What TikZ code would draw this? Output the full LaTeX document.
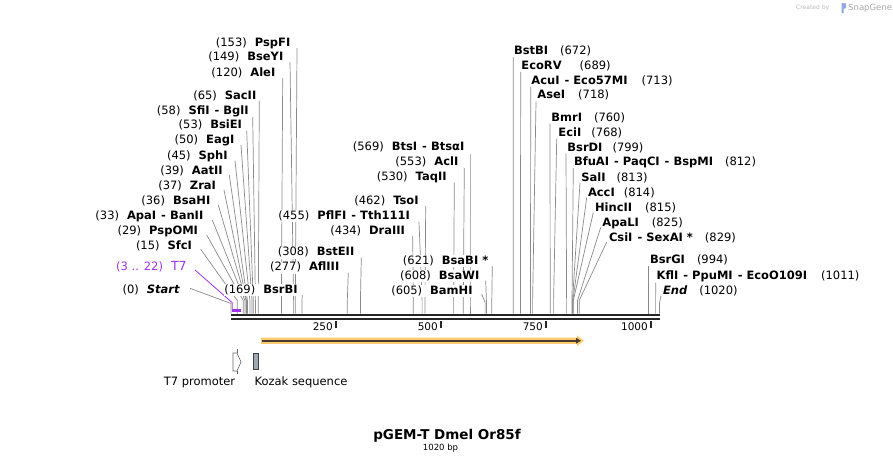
\documentclass[tikz,border=0pt]{standalone}
\usepackage{fontspec}
\setmainfont{DejaVu Sans}
\usetikzlibrary{arrows.meta,backgrounds}

\definecolor{cutgray}{RGB}{138,138,138}
\definecolor{primer}{RGB}{160,50,235}
\definecolor{cdsfill}{RGB}{253,202,112}
\definecolor{cdsline}{RGB}{70,60,48}
\definecolor{kozak}{RGB}{160,168,176}
\definecolor{credit}{RGB}{185,185,185}

\tikzset{
    enzl/.style = {
        anchor=east,
        inner sep=0.5pt,
        fill=white,
        text height=8.5pt,
        text depth=2.5pt,
        font=\fontsize{11.5}{13}\selectfont
    },
    enzr/.style = {
        enzl,
        anchor=west
    },
    cut/.style = {
        draw=cutgray,
        line width=0.7pt
    },
    backbone/.style = {
        draw=black!85,
        line width=2.1pt
    },
    tick/.style = {
        draw=black!85,
        line width=1.7pt
    },
    ticklabel/.style = {
        anchor=east,
        inner sep=0pt,
        font=\fontsize{10.5}{12}\selectfont
    },
    featlabel/.style = {
        inner sep=0pt,
        font=\fontsize{11.5}{13}\selectfont
    }
}

\begin{document}
\begin{tikzpicture}[x=1pt, y=-1pt]

\useasboundingbox (0,0) rectangle (893,464);

% cut sites on the top strand
\coordinate (c0) at (231,313.5);
\coordinate (c15) at (237.3,313.5);
\coordinate (c29) at (243.2,313.5);
\coordinate (c33) at (244.9,313.5);
\coordinate (c36) at (246.1,313.5);
\coordinate (c37) at (246.5,313.5);
\coordinate (c39) at (247.4,313.5);
\coordinate (c45) at (249.9,313.5);
\coordinate (c50) at (252.0,313.5);
\coordinate (c53) at (253.3,313.5);
\coordinate (c58) at (255.4,313.5);
\coordinate (c65) at (258.3,313.5);
\coordinate (c120) at (281.4,313.5);
\coordinate (c149) at (293.6,313.5);
\coordinate (c153) at (295.3,313.5);
\coordinate (c169) at (302.0,313.5);
\coordinate (c277) at (347.3,313.5);
\coordinate (c308) at (360.4,313.5);
\coordinate (c434) at (413.3,313.5);
\coordinate (c455) at (422.1,313.5);
\coordinate (c462) at (425.0,313.5);
\coordinate (c530) at (453.6,313.5);
\coordinate (c553) at (463.3,313.5);
\coordinate (c569) at (470.0,313.5);
\coordinate (c605) at (485.1,313.5);
\coordinate (c608) at (486.4,313.5);
\coordinate (c621) at (491.8,313.5);
\coordinate (c672) at (513.2,313.5);
\coordinate (c689) at (520.4,313.5);
\coordinate (c713) at (530.5,313.5);
\coordinate (c718) at (532.6,313.5);
\coordinate (c760) at (550.2,313.5);
\coordinate (c768) at (553.6,313.5);
\coordinate (c799) at (566.6,313.5);
\coordinate (c812) at (572.0,313.5);
\coordinate (c813) at (572.5,313.5);
\coordinate (c814) at (572.9,313.5);
\coordinate (c815) at (573.3,313.5);
\coordinate (c825) at (577.5,313.5);
\coordinate (c829) at (579.2,313.5);
\coordinate (c994) at (648.5,313.5);
\coordinate (c1011) at (655.6,313.5);
\coordinate (c1020) at (659.4,313.5);
\coordinate (t7site) at (232.3,310.7);

% enzymes left of the map
\node (pspfi) [enzl] at (291,43) {(153)\hspace{8pt}\textbf{PspFI}};
\node (bseyi) [enzl] at (284,57.7) {(149)\hspace{8pt}\textbf{BseYI}};
\node (alei) [enzl] at (276,73.7) {(120)\hspace{8pt}\textbf{AleI}};
\node (sacii) [enzl] at (257,96) {(65)\hspace{8pt}\textbf{SacII}};
\node (sfii) [enzl] at (249.3,111) {(58)\hspace{8pt}\textbf{SfiI\hspace{5pt}- BglI}};
\node (bsiei) [enzl] at (242.7,125.3) {(53)\hspace{8pt}\textbf{BsiEI}};
\node (eagi) [enzl] at (235,140) {(50)\hspace{8pt}\textbf{EagI}};
\node (sphi) [enzl] at (228.3,156) {(45)\hspace{8pt}\textbf{SphI}};
\node (aatii) [enzl] at (223.3,171) {(39)\hspace{8pt}\textbf{AatII}};
\node (zrai) [enzl] at (216.7,186) {(37)\hspace{8pt}\textbf{ZraI}};
\node (bsahi) [enzl] at (211,201) {(36)\hspace{8pt}\textbf{BsaHI}};
\node (apai) [enzl] at (204,216) {(33)\hspace{8pt}\textbf{ApaI\hspace{5pt}- BanII}};
\node (pspomi) [enzl] at (198.7,231) {(29)\hspace{8pt}\textbf{PspOMI}};
\node (sfci) [enzl] at (192.7,246) {(15)\hspace{8pt}\textbf{SfcI}};
\node (t7) [enzl, text=primer] at (187.3,267.7) {(3 .. 22)\hspace{8pt}{\fontsize{12.5}{13}\selectfont T7}};
\node (start) [enzl] at (180.7,290.3) {(0)\hspace{8pt}\textbf{\textit{Start}}};

% enzymes in the middle
\node (bsrbi) [enzl] at (298.3,290.3) {(169)\hspace{8pt}\textbf{BsrBI}};
\node (afliii) [enzl] at (340,267.7) {(277)\hspace{8pt}\textbf{AflIII}};
\node (bsteii) [enzl] at (355,252.7) {(308)\hspace{8pt}\textbf{BstEII}};
\node (draiii) [enzl] at (405.7,231) {(434)\hspace{8pt}\textbf{DraIII}};
\node (pflfi) [enzl] at (410.7,216) {(455)\hspace{8pt}\textbf{PflFI\hspace{5pt}- Tth111I}};
\node (tsoi) [enzl] at (419.3,201) {(462)\hspace{8pt}\textbf{TsoI}};
\node (taqii) [enzl] at (447.3,177.7) {(530)\hspace{8pt}\textbf{TaqII}};
\node (acli) [enzl] at (459,162.7) {(553)\hspace{8pt}\textbf{AclI}};
\node (btsi) [enzl] at (465,147.7) {(569)\hspace{8pt}\textbf{BtsI\hspace{5pt}- BtsαI}};
\node (bamhi) [enzl] at (473.3,291) {(605)\hspace{8pt}\textbf{BamHI}};
\node (bsawi) [enzl] at (480,276) {(608)\hspace{8pt}\textbf{BsaWI}};
\node (bsabi) [enzl] at (489,261) {(621)\hspace{8pt}\textbf{BsaBI *}};

% enzymes right of the map
\node (bstbi) [enzr] at (513.3,51) {\textbf{BstBI}\hspace{12pt}(672)};
\node (ecorv) [enzr] at (520.7,66) {\textbf{EcoRV}\hspace{18pt}(689)};
\node (acui) [enzr] at (530.7,81) {\textbf{AcuI\hspace{5pt}- Eco57MI}\hspace{14pt}(713)};
\node (asei) [enzr] at (536.7,95.3) {\textbf{AseI}\hspace{13pt}(718)};
\node (bmri) [enzr] at (550.7,118.7) {\textbf{BmrI}\hspace{12pt}(760)};
\node (ecii) [enzr] at (557.7,133.7) {\textbf{EciI}\hspace{10pt}(768)};
\node (bsrdi) [enzr] at (566.7,148.3) {\textbf{BsrDI}\hspace{10pt}(799)};
\node (bfuai) [enzr] at (573.3,162.7) {\textbf{BfuAI\hspace{5pt}- PaqCI\hspace{5pt}- BspMI}\hspace{12pt}(812)};
\node (sali) [enzr] at (580.7,178.3) {\textbf{SalI}\hspace{11pt}(813)};
\node (acci) [enzr] at (587.3,193.3) {\textbf{AccI}\hspace{9pt}(814)};
\node (hincii) [enzr] at (594.3,208.3) {\textbf{HincII}\hspace{13pt}(815)};
\node (apali) [enzr] at (601.7,223.3) {\textbf{ApaLI}\hspace{13pt}(825)};
\node (csii) [enzr] at (608.3,238.3) {\textbf{CsiI\hspace{5pt}- SexAI *}\hspace{12pt}(829)};
\node (bsrgi) [enzr] at (649.3,260.3) {\textbf{BsrGI}\hspace{12pt}(994)};
\node (kfli) [enzr] at (656,276) {\textbf{KflI\hspace{5pt}- PpuMI\hspace{5pt}- EcoO109I}\hspace{14pt}(1011)};
\node (endsite) [enzr] at (662.3,291) {\textbf{\textit{End}}\hspace{12pt}(1020)};

% features
\node (t7prom) [featlabel] at (199.5,382) {T7 promoter};
\node (kozakseq) [featlabel] at (301,382) {Kozak sequence};

% scale
\node (t250) [ticklabel] at (333,327) {250};
\node (t500) [ticklabel] at (438,327) {500};
\node (t750) [ticklabel] at (543,327) {750};
\node (t1000) [ticklabel] at (648,327) {1000};

% title
\node (title) [inner sep=0pt, font=\fontsize{13.5}{15}\selectfont\bfseries] at (447,436) {pGEM-T Dmel Or85f};
\node (size) [inner sep=0pt, font=\fontsize{8.5}{10}\selectfont] at (440.5,448) {1020 bp};

% credit
\node (created) [inner sep=0pt, anchor=west, text=credit, font=\fontsize{6}{7}\selectfont] at (796,8) {Created by};
\node (snapgene) [inner sep=0pt, anchor=west, text=credit!90!black, font=\fontsize{8.5}{10}\selectfont] at (848,8) {SnapGene};
\fill[cyan!45!blue!45] (841.5,3) -- (846,3.5) -- (846,8) -- (843.5,9) -- (843.5,13) -- (841.5,13) -- cycle;

% DNA
\draw[backbone] (231,315.3) -- (660,315.3);
\draw[backbone] (231,319.3) -- (660,319.3);
\draw[tick] (336,321) -- (336,328);
\draw[tick] (441,321) -- (441,328);
\draw[tick] (546,321) -- (546,328);
\draw[tick] (651,321) -- (651,328);

% ORF
\fill[cdsfill] (261,337.6) -- (577,337.6) -- (577,335.3) -- (584,340.7) -- (577,346.1) -- (577,343.8) -- (261,343.8) -- cycle;
\draw[cdsline, line width=1.6pt, -{Triangle[length=5pt,width=5.5pt]}] (262,340.7) -- (581,340.7);

% T7 promoter and Kozak boxes
\draw[black!60, fill=white, line width=0.6pt] (233,353) -- (237,353) -- (241,362) -- (237,371) -- (233,371) -- cycle;
\draw[black!60, line width=0.6pt] (237,349) -- (237,353);
\draw[black!60, line width=0.6pt] (237,371) -- (237,374);
\draw[black!75, fill=kozak, line width=0.7pt] (253.5,353.5) rectangle (258.5,369.5);

% primer bar
\draw[primer, line width=2.5pt] (t7site) -- ++(8.7,0);

% Lines
\begin{scope}[on background layer]
\draw [cut] ([shift={(6,5)}]pspfi.east) -- ([yshift=13pt]c153) -- (c153);
\draw [cut] ([shift={(6,4.3)}]bseyi.east) -- ([yshift=13pt]c149) -- (c149);
\draw [cut] ([shift={(6.7,4.3)}]alei.east) -- ([yshift=13pt]c120) -- (c120);
\draw [cut] ([shift={(2.3,4.7)}]sacii.east) -- ([yshift=13pt]c65) -- (c65);
\draw [cut] ([shift={(3.4,6)}]sfii.east) -- ([yshift=13pt]c58) -- (c58);
\draw [cut] ([shift={(4,5.4)}]bsiei.east) -- ([yshift=13pt]c53) -- (c53);
\draw [cut] ([shift={(6,5)}]eagi.east) -- ([yshift=13pt]c50) -- (c50);
\draw [cut] ([shift={(6.7,4.7)}]sphi.east) -- ([yshift=13pt]c45) -- (c45);
\draw [cut] ([shift={(6,4)}]aatii.east) -- ([yshift=13pt]c39) -- (c39);
\draw [cut] ([shift={(7.3,4)}]zrai.east) -- ([yshift=13pt]c37) -- (c37);
\draw [cut] ([shift={(7.3,4)}]bsahi.east) -- ([yshift=13pt]c36) -- (c36);
\draw [cut] ([shift={(8.3,4)}]apai.east) -- ([yshift=13pt]c33) -- (c33);
\draw [cut] ([shift={(8,4)}]pspomi.east) -- ([yshift=13pt]c29) -- (c29);
\draw [cut] ([shift={(8,3.3)}]sfci.east) -- ([yshift=13pt]c15) -- (c15);
\draw [primer, line width=0.8pt] ([shift={(7.7,2.3)}]t7.east) -- ([yshift=8pt]t7site) -- (t7site);
\draw [cut] ([shift={(9.3,-2)}]start.east) -- ([yshift=10pt]c0) -- (c0);

\draw [cut] ([shift={(4,4.7)}]bsrbi.east) -- ([yshift=13pt]c169) -- (c169);
\draw [cut] ([shift={(8.3,5.3)}]afliii.east) -- ([yshift=13pt]c277) -- (c277);
\draw [cut] ([shift={(6.3,5)}]bsteii.east) -- ([yshift=13pt]c308) -- (c308);
\draw [cut] ([shift={(7,5)}]draiii.east) -- ([yshift=13pt]c434) -- (c434);
\draw [cut] ([shift={(8.3,5.7)}]pflfi.east) -- ([yshift=13pt]c455) -- (c455);
\draw [cut] ([shift={(6.4,5)}]tsoi.east) -- ([yshift=13pt]c462) -- (c462);
\draw [cut] ([shift={(7,5)}]taqii.east) -- ([yshift=13pt]c530) -- (c530);
\draw [cut] ([shift={(5.3,5.3)}]acli.east) -- ([yshift=13pt]c553) -- (c553);
\draw [cut] ([shift={(5,6.3)}]btsi.east) -- ([yshift=13pt]c569) -- (c569);
\draw [cut] ([shift={(8.4,3)}]bamhi.east) -- ([yshift=11pt]c605) -- (c605);
\draw [cut] ([shift={(5.7,4.7)}]bsawi.east) -- ([yshift=13pt]c608) -- (c608);
\draw [cut] ([shift={(3.3,5)}]bsabi.east) -- ([yshift=13pt]c621) -- (c621);

\draw [cut] ([shift={(0,6)}]bstbi.west) -- ([yshift=13pt]c672) -- (c672);
\draw [cut] ([shift={(0,6)}]ecorv.west) -- ([yshift=13pt]c689) -- (c689);
\draw [cut] ([shift={(0,5.7)}]acui.west) -- ([yshift=13pt]c713) -- (c713);
\draw [cut] ([shift={(-0.7,6.4)}]asei.west) -- ([yshift=13pt]c718) -- (c718);
\draw [cut] ([shift={(-0.7,5)}]bmri.west) -- ([yshift=13pt]c760) -- (c760);
\draw [cut] ([shift={(-1,5)}]ecii.west) -- ([yshift=13pt]c768) -- (c768);
\draw [cut] ([shift={(-0.7,5)}]bsrdi.west) -- ([yshift=13pt]c799) -- (c799);
\draw [cut] ([shift={(0,5.3)}]bfuai.west) -- ([yshift=13pt]c812) -- (c812);
\draw [cut] ([shift={(-0.7,4.4)}]sali.west) -- ([yshift=13pt]c813) -- (c813);
\draw [cut] ([shift={(-0.6,4.2)}]acci.west) -- ([yshift=13pt]c814) -- (c814);
\draw [cut] ([shift={(-1,4.2)}]hincii.west) -- ([yshift=13pt]c815) -- (c815);
\draw [cut] ([shift={(-1,4.2)}]apali.west) -- ([yshift=13pt]c825) -- (c825);
\draw [cut] ([shift={(-1.6,3.7)}]csii.west) -- ([yshift=13pt]c829) -- (c829);
\draw [cut] ([shift={(-0.8,5.7)}]bsrgi.west) -- ([yshift=13pt]c994) -- (c994);
\draw [cut] ([shift={(-0.3,6.7)}]kfli.west) -- ([yshift=13pt]c1011) -- (c1011);
\draw [cut] ([shift={(-1.3,4.7)}]endsite.west) -- ([yshift=10pt]c1020) -- (c1020);
\end{scope}

\end{tikzpicture}
\end{document}
